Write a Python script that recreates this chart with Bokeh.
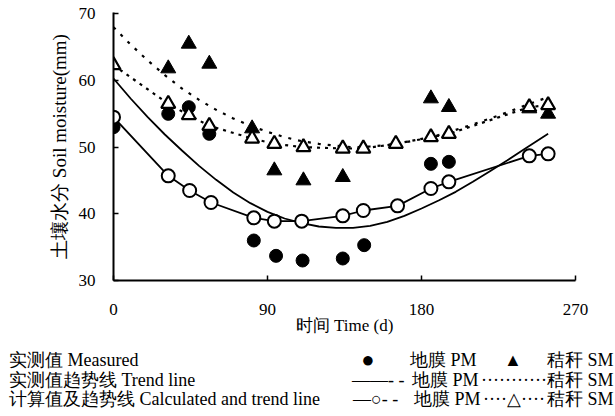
from bokeh.plotting import figure
from bokeh.models import Range1d, FixedTicker, Div
from bokeh.layouts import column
from bokeh.embed import file_html
from bokeh.resources import INLINE

# ---- data ----
# PM measured (filled circles)
pm_meas_day = [0, 32, 44, 56, 82, 95, 110.5, 134, 146.5, 185.5, 196]
pm_meas_val = [53.0, 55.0, 56.0, 52.0, 36.0, 33.7, 33.0, 33.3, 35.3, 47.5, 47.8]
# SM measured (filled triangles)
sm_meas_day = [32, 44, 56, 81, 94, 111, 134, 185.5, 196, 243, 254]
sm_meas_val = [61.8, 65.5, 62.5, 52.8, 46.5, 45.0, 45.5, 57.3, 56.0, 55.8, 55.0]
# PM calculated (open circles)
pm_calc_day = [0, 32, 44.5, 57, 82, 94, 110, 134, 146, 166, 185.5, 196, 243, 254]
pm_calc_val = [54.5, 45.7, 43.5, 41.7, 39.4, 38.9, 38.9, 39.7, 40.5, 41.2, 43.8, 44.8, 48.7, 49.0]
# SM calculated (open triangles)
sm_calc_day = [0, 32, 44, 56, 81, 94, 111, 134, 146, 165, 185.5, 196, 243, 254]
sm_calc_val = [62.3, 56.5, 54.8, 53.2, 51.3, 50.5, 50.0, 49.8, 49.8, 50.5, 51.5, 52.0, 56.0, 56.3]
pm_trend_day = [0, 10, 20, 30, 40, 50, 60, 70, 80, 90, 100, 110, 120, 130, 140, 150, 160, 170, 180, 190, 200, 210, 220, 230, 240, 254]
pm_trend_val = [60.3, 57.3, 54.5, 51.9, 49.5, 47.2, 45.1, 43.2, 41.6, 40.3, 39.3, 38.6, 38.1, 37.9, 37.9, 38.2, 38.8, 39.7, 40.8, 42.0, 43.3, 44.8, 46.4, 48.0, 49.7, 52.0]
sm_trend_day = [0, 10, 20, 30, 40, 50, 60, 70, 80, 90, 100, 110, 120, 130, 140, 150, 160, 170, 180, 190, 200, 210, 220, 230, 240, 254]
sm_trend_val = [68.0, 65.4, 63.0, 60.8, 58.8, 57.1, 55.6, 54.3, 53.2, 52.3, 51.5, 50.9, 50.5, 50.2, 50.0, 50.1, 50.3, 50.7, 51.2, 51.8, 52.6, 53.4, 54.3, 55.2, 56.2, 57.5]

x_ticks = [0, 90, 180, 270]
y_ticks = [30, 40, 50, 60, 70]

x_title = "时间 Time (d)"
y_title = "土壤水分 Soil moisture(mm)"

legend_left = ["实测值 Measured", "实测值趋势线 Trend line", "计算值及趋势线 Calculated and trend line"]
pm_name = "地膜 PM"
sm_name = "秸秆 SM"
pm_symbols = ["●", "——- -", "—○- -"]
sm_symbols = ["▲", "············", "····△····"]

FONT = "Liberation Serif"

# ---------------- main chart ----------------
p = figure(width=615, height=346, output_backend="svg", toolbar_location=None,
           x_range=Range1d(0, 270), y_range=Range1d(30, 70.2),
           min_border_left=113, min_border_right=40, min_border_top=12, min_border_bottom=66)
p.outline_line_color = None
p.xgrid.visible = False
p.ygrid.visible = False
p.background_fill_color = "white"
p.border_fill_color = "white"

for ax in (p.xaxis[0], p.yaxis[0]):
    ax.axis_line_width = 2
    ax.axis_line_color = "black"
    ax.major_tick_in = 5
    ax.major_tick_out = 0
    ax.major_tick_line_width = 1.5
    ax.major_tick_line_color = "black"
    ax.minor_tick_in = 0
    ax.minor_tick_out = 0
    ax.major_label_text_font = FONT
    ax.major_label_text_font_size = "17px"
    ax.major_label_text_color = "black"
    ax.axis_label_text_font = FONT
    ax.axis_label_text_font_style = "normal"
    ax.axis_label_text_color = "black"

p.xaxis.ticker = FixedTicker(ticks=x_ticks)
p.yaxis.ticker = FixedTicker(ticks=y_ticks)
p.xaxis.major_label_standoff = 23
p.yaxis.major_label_standoff = 18
p.xaxis.axis_label = x_title
p.yaxis.axis_label = y_title
p.xaxis.axis_label_text_font_size = "17px"
p.yaxis.axis_label_text_font_size = "19px"
p.xaxis.axis_label_standoff = -2
p.yaxis.axis_label_standoff = 6

# lines
p.line(pm_trend_day, pm_trend_val, line_color="black", line_width=1.8)
p.line(sm_trend_day, sm_trend_val, line_color="black", line_width=2.2, line_dash="3 7")
p.line(sm_calc_day, sm_calc_val, line_color="black", line_width=2.2, line_dash="3 5")
p.line(pm_calc_day, pm_calc_val, line_color="black", line_width=1.8)

# markers
p.scatter(pm_meas_day, pm_meas_val, marker="circle", size=13, fill_color="black", line_color="black")
p.scatter(sm_meas_day, sm_meas_val, marker="triangle", size=15, fill_color="black", line_color="black")
p.scatter(sm_calc_day, sm_calc_val, marker="triangle", size=14, fill_color="white", line_color="black", line_width=2.2)
p.scatter(pm_calc_day, pm_calc_val, marker="circle", size=13, fill_color="white", line_color="black", line_width=2)

# ---------------- legend (HTML text block below the chart) ----------------
row_tops = [5, 25, 44]

def span(left, top, text, size=18, center=False):
    tr = "transform:translateX(-50%);" if center else ""
    return (f'<span style="position:absolute;left:{left}px;top:{top}px;{tr}'
            f'white-space:nowrap;font-size:{size}px;line-height:18px;">{text}</span>')

parts = []
for t, top in zip(legend_left, row_tops):
    parts.append(span(9, top, t))
pm_sym_x = [368, 352, 353]
pm_name_x = [410, 412, 414]
sm_sym_x = [513, 481, 483]
sm_name_x = [547, 547, 547]
for i, top in enumerate(row_tops):
    if i == 0:
        parts.append(span(pm_sym_x[i], top, pm_symbols[i], size=22, center=True))
        parts.append(span(sm_sym_x[i], top, sm_symbols[i], size=18, center=True))
    else:
        parts.append(span(pm_sym_x[i], top, pm_symbols[i]))
        parts.append(span(sm_sym_x[i], top, sm_symbols[i]))
    parts.append(span(pm_name_x[i], top, pm_name))
    parts.append(span(sm_name_x[i], top, sm_name))

html = ('<div style="position:relative;width:615px;height:66px;overflow:hidden;'
        f"font-family:'{FONT}',serif;color:black;\">" + "".join(parts) + "</div>")
legend = Div(text=html, width=615, height=66, margin=0)

open("out.html", "w").write(file_html(column(p, legend, spacing=0), INLINE))
